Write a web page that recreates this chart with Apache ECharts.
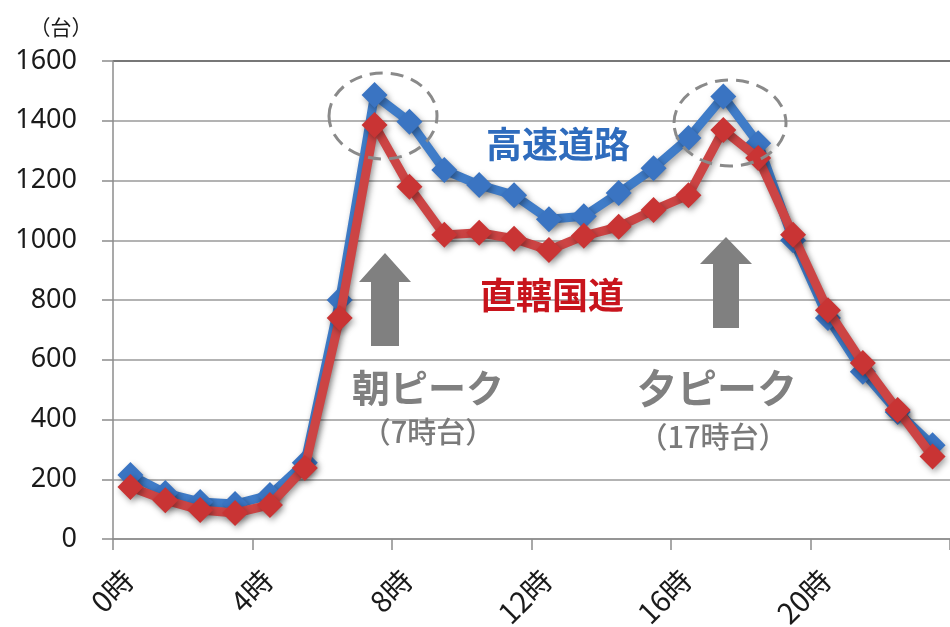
<!DOCTYPE html>
<html>
<head>
<meta charset="utf-8">
<script src="https://cdn.jsdelivr.net/npm/echarts@6/dist/echarts.min.js"></script>
<style>
html,body{margin:0;padding:0;background:#fff;}
#chart{width:950px;height:627px;}
</style>
</head>
<body>
<div id="chart"></div>
<script>
// Hour positions (center of each hour slot) and traffic volumes (台)
var hours = [0.5,1.5,2.5,3.5,4.5,5.5,6.5,7.5,8.5,9.5,10.5,11.5,12.5,13.5,14.5,15.5,16.5,17.5,18.5,19.5,20.5,21.5,22.5,23.5];
var expressway = [214,154,124,117,147,255,800,1486,1397,1235,1185,1151,1070,1080,1158,1241,1342,1481,1325,1000,740,560,425,314];
var nationalRoad = [174,130,97,87,114,238,740,1386,1179,1018,1025,1005,967,1015,1045,1101,1151,1369,1275,1018,766,589,432,276];
var xTicks = [0,4,8,12,16,20];
var xTickLabels = ['0時','4時','8時','12時','16時','20時'];
var yTicks = [0,200,400,600,800,1000,1200,1400,1600];

var seriesNames = ['高速道路','直轄国道'];
var unitLabel = '（台）';

function pairs(xs, ys){ return xs.map(function(x,i){ return [x, ys[i]]; }); }

var FONT = "'Noto Sans','Noto Sans CJK JP',sans-serif";
var CJK = "'Noto Sans CJK JP','Noto Sans',sans-serif";

var chart = echarts.init(document.getElementById('chart'), null, {renderer:'canvas'});

var shadow = {shadowBlur:6, shadowColor:'rgba(0,0,0,0.35)', shadowOffsetX:2, shadowOffsetY:3};

var annotations = [
  {type:'text', x:61, y:27, style:{text:unitLabel, font:'21px '+CJK, fill:'#1a1a1a', align:'center', verticalAlign:'middle'}, z:10},
  // dashed ellipses around the peaks
  {type:'ellipse', shape:{cx:383, cy:116, rx:54, ry:43}, style:{fill:null, stroke:'#8a8a8a', lineWidth:3, lineDash:[13,8]}, z:10},
  {type:'ellipse', shape:{cx:730, cy:123, rx:56, ry:43}, style:{fill:null, stroke:'#8a8a8a', lineWidth:3, lineDash:[13,8]}, z:10},
  // arrows
  {type:'polygon', shape:{points:[[385,253],[411,282],[399,282],[399,346],[371,346],[371,282],[359,282]]}, style:{fill:'#808080'}, z:10},
  {type:'polygon', shape:{points:[[726,237],[752,264],[739,264],[739,328],[713,328],[713,264],[700,264]]}, style:{fill:'#808080'}, z:10},
  // series labels
  {type:'text', x:558, y:144, style:{text:seriesNames[0], font:'bold 36px '+CJK, fill:'#2f6cbd', align:'center', verticalAlign:'middle'}, z:10},
  {type:'text', x:552, y:295, style:{text:seriesNames[1], font:'bold 36px '+CJK, fill:'#c8141c', align:'center', verticalAlign:'middle'}, z:10},
  // peak labels
  {type:'text', x:428, y:388, style:{text:'朝ピーク', font:'bold 38px '+CJK, fill:'#808080', align:'center', verticalAlign:'middle'}, z:10},
  {type:'text', x:428, y:432, style:{text:'（7時台）', font:'500 29px '+CJK, fill:'#7a7a7a', align:'center', verticalAlign:'middle'}, z:10},
  {type:'text', x:717, y:388, style:{text:'夕ピーク', font:'bold 40px '+CJK, fill:'#808080', align:'center', verticalAlign:'middle'}, z:10},
  {type:'text', x:713, y:437, style:{text:'（17時台）', font:'500 29px '+CJK, fill:'#7a7a7a', align:'center', verticalAlign:'middle'}, z:10}
];

chart.setOption({
  backgroundColor:'#fff',
  animation:false,
  grid:{left:113, top:61, width:838, height:478},
  xAxis:{
    type:'value', min:0, max:24, interval:4,
    axisLine:{show:true, lineStyle:{color:'#8c8c8c', width:1.5}},
    axisTick:{show:true, length:11, lineStyle:{color:'#8c8c8c', width:1.5}},
    splitLine:{show:false},
    axisLabel:{show:false}
  },
  yAxis:{
    type:'value', min:0, max:1600, interval:200,
    axisLine:{show:true, lineStyle:{color:'#8c8c8c', width:1.5}},
    axisTick:{show:true, length:11, lineStyle:{color:'#8c8c8c', width:1.5}},
    splitLine:{show:true, lineStyle:{color:['#9a9a9a','#9a9a9a','#9a9a9a','#9a9a9a','#9a9a9a','#9a9a9a','#9a9a9a','#9a9a9a','#4a4a4a'], width:1.5}},
    axisLabel:{
      margin:36, fontSize:27, color:'#1a1a1a', fontFamily:FONT,
      formatter:function(v){ return yTicks.indexOf(v) >= 0 ? String(v) : ''; }
    }
  },
  series:[
    {
      name:seriesNames[0], type:'line', data:pairs(hours, expressway),
      symbol:'diamond', symbolSize:26,
      lineStyle:Object.assign({color:'#3f7cc8', width:9}, shadow),
      itemStyle:Object.assign({color:'#3a74c2'}, shadow),
      z:2
    },
    {
      name:seriesNames[1], type:'line', data:pairs(hours, nationalRoad),
      symbol:'diamond', symbolSize:26,
      lineStyle:Object.assign({color:'#cc4444', width:9}, shadow),
      itemStyle:Object.assign({color:'#c93434'}, shadow),
      z:3
    }
  ],
  graphic:annotations
});

// Rotated x-axis tick labels, placed at the axis' own tick positions
var tickLabels = xTicks.map(function(v, i){
  var p = chart.convertToPixel({gridIndex:0}, [v, 0]);
  return {
    type:'text', x:p[0] + 15, y:p[1] + 36, rotation:Math.PI/4,
    style:{text:xTickLabels[i], font:'29px '+CJK, fill:'#1a1a1a', align:'right', verticalAlign:'middle'},
    z:10
  };
});
chart.setOption({graphic:annotations.concat(tickLabels)});
</script>
</body>
</html>
